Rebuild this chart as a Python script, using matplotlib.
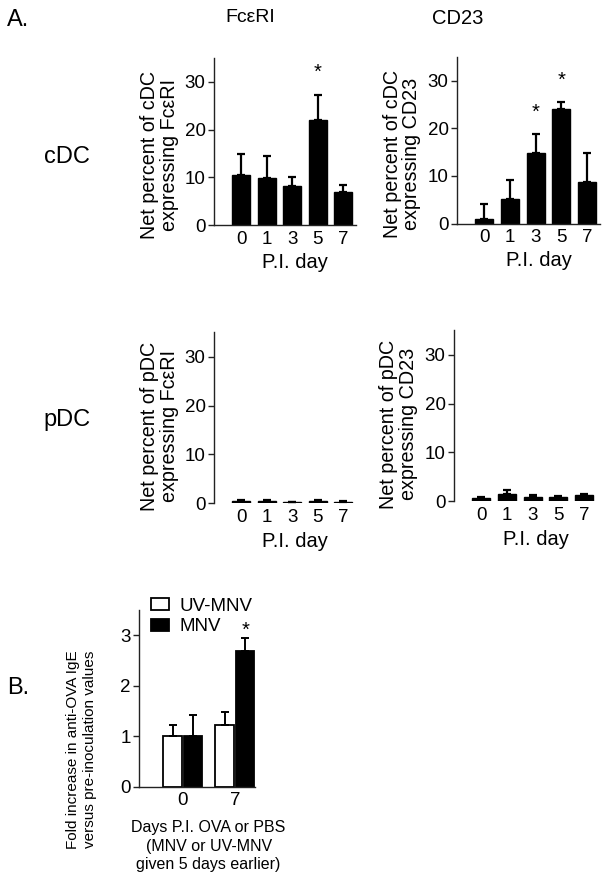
import matplotlib
matplotlib.use("Agg")
import matplotlib.pyplot as plt
from matplotlib.patches import Patch
import numpy as np

plt.rcParams['font.family'] = ['Liberation Sans', 'DejaVu Sans']

# ---------------- data ----------------
days = ['0', '1', '3', '5', '7']

fce_cdc = [10.5, 9.9, 8.2, 22.1, 7.0]
fce_cdc_err = [4.4, 4.6, 1.9, 5.2, 1.3]
fce_cdc_sig = [False, False, False, True, False]

cd23_cdc = [0.9, 5.2, 14.8, 24.1, 8.8]
cd23_cdc_err = [3.2, 4.0, 3.9, 1.4, 6.1]
cd23_cdc_sig = [False, False, True, True, False]

fce_pdc = [0.5, 0.5, 0.2, 0.4, 0.3]
fce_pdc_err = [0.2, 0.2, 0.1, 0.2, 0.2]

cd23_pdc = [0.6, 1.4, 0.9, 0.8, 1.3]
cd23_pdc_err = [0.2, 0.9, 0.3, 0.2, 0.2]

b_days = ['0', '7']
uv_mnv = [1.0, 1.22]
uv_mnv_err = [0.23, 0.25]
mnv = [1.0, 2.68]
mnv_err = [0.42, 0.26]
mnv_sig = [False, True]

# ---------------- figure ----------------
W, H = 607, 882
fig = plt.figure(figsize=(W / 100, H / 100), dpi=100)

def fax(x0, y_bottom_px, w_px, h_px):
    return fig.add_axes([x0 / W, 1 - y_bottom_px / H, w_px / W, h_px / H])

TICK = 13.5
LAB = 14.2

def style(ax, bottom=True):
    for s in ['top', 'right']:
        ax.spines[s].set_visible(False)
    ax.spines['bottom'].set_visible(bottom)
    for s in ['left', 'bottom']:
        ax.spines[s].set_linewidth(1.0)
        ax.spines[s].set_color('#222222')
    ax.tick_params(axis='y', direction='out', length=4, width=1.0, pad=2,
                   labelsize=TICK, color='#222222')
    ax.tick_params(axis='x', length=0, pad=4, labelsize=TICK)

def dc_panel(ax, vals, errs, ylabel, sig=None, bottom=True, lab_x=-0.245, lab_y=0.42):
    x = np.arange(len(days))
    ax.bar(x, vals, width=0.7, color='black', edgecolor='black')
    ax.errorbar(x, vals, yerr=[np.zeros(len(vals)), errs], fmt='none',
                ecolor='black', elinewidth=1.6, capsize=3.2, capthick=1.6)
    if sig is not None:
        for xi, v, e, s in zip(x, vals, errs, sig):
            if s:
                ax.annotate('*', (xi, v + e), xytext=(0, 12), textcoords='offset points',
                            ha='center', va='baseline', fontsize=14.5)
    ax.set_ylim(0, 35)
    ax.set_yticks([0, 10, 20, 30])
    ax.set_xlim(-1.06, 4.5)
    ax.set_xticks(x)
    ax.set_xticklabels(days)
    ax.set_xlabel('P.I. day', fontsize=LAB + 0.3)
    ax.xaxis.set_label_coords(0.57, -0.165)
    ax.set_ylabel(ylabel, fontsize=LAB, linespacing=1.05)
    ax.yaxis.set_label_coords(lab_x, lab_y)
    style(ax, bottom)

ax1 = fax(214, 225, 142, 167)
dc_panel(ax1, fce_cdc, fce_cdc_err, 'Net percent of cDC\nexpressing FcεRI', fce_cdc_sig)

ax2 = fax(457, 223.7, 143, 167)
dc_panel(ax2, cd23_cdc, cd23_cdc_err, 'Net percent of cDC\nexpressing CD23', cd23_cdc_sig,
         lab_x=-0.25)

ax3 = fax(214, 503.3, 142, 171)
dc_panel(ax3, fce_pdc, fce_pdc_err, 'Net percent of pDC\nexpressing FcεRI', bottom=False,
         lab_y=0.45)

ax4 = fax(454, 501.3, 143, 171)
dc_panel(ax4, cd23_pdc, cd23_pdc_err, 'Net percent of pDC\nexpressing CD23', bottom=False,
         lab_x=-0.25, lab_y=0.45)

# ---------------- panel B ----------------
axb = fax(139, 786.7, 116, 176.7)
xb = np.arange(len(b_days))
bw = 0.35
off = 0.2
axb.bar(xb - off, uv_mnv, width=bw, color='white', edgecolor='black', linewidth=1.3,
        label='UV-MNV')
axb.bar(xb + off, mnv, width=bw, color='black', edgecolor='black', linewidth=1.3,
        label='MNV')
axb.errorbar(xb - off, uv_mnv, yerr=[np.zeros(2), uv_mnv_err], fmt='none',
             ecolor='black', elinewidth=1.4, capsize=3.2, capthick=1.4)
axb.errorbar(xb + off, mnv, yerr=[np.zeros(2), mnv_err], fmt='none',
             ecolor='black', elinewidth=1.4, capsize=3.2, capthick=1.4)
for xi, v, e, s in zip(xb + off, mnv, mnv_err, mnv_sig):
    if s:
        axb.annotate('*', (xi, v + e), xytext=(0, 1.5), textcoords='offset points',
                     ha='center', va='baseline', fontsize=14.5)
axb.set_ylim(0, 3.5)
axb.set_yticks([0, 1, 2, 3])
axb.set_xlim(-0.846, 1.385)
axb.set_xticks(xb)
axb.set_xticklabels(b_days)
style(axb)
axb.set_ylabel('Fold increase in anti-OVA IgE\nversus pre-inoculation values',
               fontsize=11, linespacing=1.25)
axb.yaxis.set_label_coords(-0.36, 0.21)
axb.set_xlabel('Days P.I. OVA or PBS\n(MNV or UV-MNV\ngiven 5 days earlier)',
               fontsize=11.5, linespacing=1.3, va='top')
axb.xaxis.set_label_coords(0.6, -0.19)
handles = [Patch(facecolor='white', edgecolor='black', linewidth=1.3, label='UV-MNV'),
           Patch(facecolor='black', edgecolor='black', linewidth=1.3, label='MNV')]
axb.legend(handles=handles, loc='upper left', bbox_to_anchor=(0.10, 1.07),
           frameon=False, fontsize=13.5, handlelength=1.0, handleheight=0.6,
           handletextpad=0.55, labelspacing=0.2, borderpad=0, borderaxespad=0)

# ---------------- text labels ----------------
fig.text(7 / W, 1 - 20 / H, 'A.', fontsize=17, ha='left', va='center')
fig.text(7 / W, 1 - 688 / H, 'B.', fontsize=17, ha='left', va='center')
fig.text(250 / W, 1 - 18 / H, 'FcεRI', fontsize=14, ha='center', va='center')
fig.text(458 / W, 1 - 18 / H, 'CD23', fontsize=14.5, ha='center', va='center')
fig.text(67 / W, 1 - 157 / H, 'cDC', fontsize=17, ha='center', va='center')
fig.text(67 / W, 1 - 420 / H, 'pDC', fontsize=17, ha='center', va='center')

fig.savefig('out.png', dpi=100)
